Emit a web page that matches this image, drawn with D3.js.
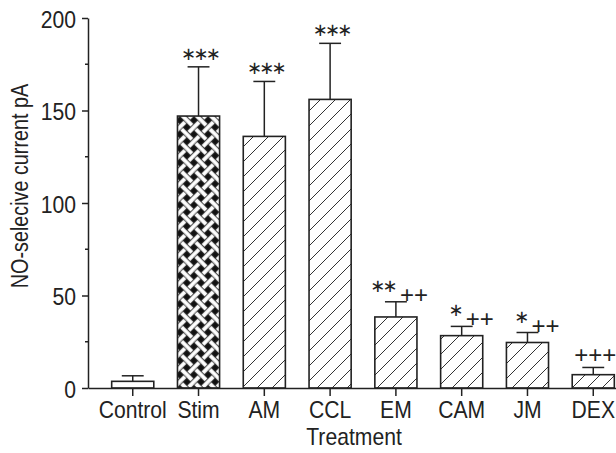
<!DOCTYPE html>
<html>
<head>
<meta charset="utf-8">
<script src="https://cdn.jsdelivr.net/npm/d3@7"></script>
<style>
  html, body { margin: 0; padding: 0; background: #fff; }
  #chart { width: 616px; height: 453px; }
  text { font-family: "Liberation Sans", Arial, sans-serif; fill: #222; }
</style>
</head>
<body>
<div id="chart"></div>
<script>
// NO-selective current per treatment, mean with upper error bar

const categories = ["Control", "Stim", "AM", "CCL", "EM", "CAM", "JM", "DEX"];
const means = [3.6, 147, 136, 156, 38.4, 28.3, 24.6, 7.2];
const errors = [3, 26.6, 29.7, 30.3, 8.2, 5, 5.4, 3.9];
const stars = ["", "***", "***", "***", "**", "*", "*", ""];
const pluses = ["", "", "", "", "++", "++", "++", "+++"];
const yTicks = [0, 50, 100, 150, 200];
const yMinorTicks = [25, 75, 125, 175];

const data = categories.map((c, i) => ({
    cat: c, mean: means[i], err: errors[i], star: stars[i], plus: pluses[i]
}));

const width = 616, height = 453;
const svg = d3.select("#chart").append("svg")
    .attr("width", width)
    .attr("height", height);

const axisColor = "#222";
const markColor = "#666";

// Patterns
const defs = svg.append("defs");

const hatch = defs.append("pattern")
    .attr("id", "hatch")
    .attr("patternUnits", "userSpaceOnUse")
    .attr("width", 15).attr("height", 15);
hatch.append("rect").attr("width", 15).attr("height", 15).attr("fill", "#fff");
hatch.append("path")
    .attr("d", "M0,15 L15,0 M-4,4 L4,-4 M11,19 L19,11")
    .attr("stroke", "#333")
    .attr("stroke-width", 1);

// basket weave, rotated 45deg
const s = 10, gap = 2.8;
const weave = defs.append("pattern")
    .attr("id", "weave")
    .attr("patternUnits", "userSpaceOnUse")
    .attr("width", 2 * s).attr("height", 2 * s)
    .attr("patternTransform", "translate(3,0) rotate(45)");
weave.append("rect").attr("width", 2 * s).attr("height", 2 * s).attr("fill", "#111");
const cells = [[0, 0, "h"], [1, 0, "v"], [0, 1, "v"], [1, 1, "h"]];
[-2 * s, 0, 2 * s].forEach(dx => {
    [-2 * s, 0, 2 * s].forEach(dy => {
        cells.forEach(([cx, cy, o]) => {
            const ox = cx * s + dx, oy = cy * s + dy;
            weave.append("rect")
                .attr("x", o === "h" ? ox - gap : ox + gap)
                .attr("y", o === "h" ? oy + gap : oy - gap)
                .attr("width", o === "h" ? s + 2 * gap : s - 2 * gap)
                .attr("height", o === "h" ? s - 2 * gap : s + 2 * gap)
                .attr("fill", "#fff")
                .attr("stroke", "#111")
                .attr("stroke-width", 0.6);
        });
    });
});

const fillFor = c => c === "Control" ? "#fff" : (c === "Stim" ? "url(#weave)" : "url(#hatch)");

// Scales
const x = d3.scaleBand()
    .domain(categories)
    .range([88, 638])
    .padding(0.36);

const y = d3.scaleLinear()
    .domain([0, 200])
    .range([388, 18]);

const bw = x.bandwidth();
const cx = d => x(d.cat) + bw / 2;

// Bars
svg.append("g")
    .selectAll("rect")
    .data(data)
    .join("rect")
    .attr("x", d => x(d.cat))
    .attr("y", d => y(d.mean))
    .attr("width", bw)
    .attr("height", d => y(0) - y(d.mean))
    .attr("fill", d => fillFor(d.cat))
    .attr("stroke", axisColor)
    .attr("stroke-width", 1.6);

// Error bars (upper only)
const eb = svg.append("g")
    .attr("stroke", axisColor)
    .attr("stroke-width", 1.5);
eb.selectAll("line.v")
    .data(data)
    .join("line")
    .attr("class", "v")
    .attr("x1", cx).attr("x2", cx)
    .attr("y1", d => y(d.mean))
    .attr("y2", d => y(d.mean + d.err));
eb.selectAll("line.cap")
    .data(data)
    .join("line")
    .attr("class", "cap")
    .attr("x1", d => cx(d) - bw * 0.26)
    .attr("x2", d => cx(d) + bw * 0.26)
    .attr("y1", d => y(d.mean + d.err))
    .attr("y2", d => y(d.mean + d.err));

// Axes
const xAxis = svg.append("g")
    .attr("transform", `translate(0,${y(0)})`)
    .call(d3.axisBottom(x).tickSizeInner(8).tickSizeOuter(0).tickPadding(6));

const yAxis = svg.append("g")
    .attr("transform", `translate(${x.range()[0]},0)`)
    .call(d3.axisLeft(y).tickValues(yTicks).tickSizeInner(6).tickSizeOuter(0).tickPadding(7));

yAxis.selectAll(".minor")
    .data(yMinorTicks)
    .join("line")
    .attr("class", "minor")
    .attr("x1", -3).attr("x2", 0)
    .attr("y1", d => y(d)).attr("y2", d => y(d))
    .attr("stroke", axisColor)
    .attr("stroke-width", 1.5);

[xAxis, yAxis].forEach(g => {
    g.selectAll("path, line").attr("stroke", axisColor).attr("stroke-width", 1.5);
    g.selectAll("text")
        .attr("fill", "#222")
        .style("font-family", "'Liberation Sans', Arial, sans-serif")
        .style("font-size", "23px");
});
// condensed look of the original lettering
xAxis.selectAll("text").attr("transform", "scale(0.92,1)");
yAxis.selectAll("text").attr("dy", "0.4em").attr("transform", "scale(0.92,1)");

// Axis titles
svg.append("text")
    .attr("transform", "translate(354,445) scale(0.92,1)")
    .attr("text-anchor", "middle")
    .style("font-size", "23px")
    .text("Treatment");

svg.append("text")
    .attr("transform", "translate(28,186) rotate(-90) scale(0.86,1)")
    .attr("text-anchor", "middle")
    .style("font-size", "23px")
    .text("NO-selecive current pA");

// Significance marks
const marks = svg.append("g");
data.filter(d => d.star).forEach(d => {
    const top = y(d.mean + d.err);
    marks.append("text")
        .attr("x", d.plus ? cx(d) - 1 : cx(d) + 1)
        .attr("y", (d.plus ? top - 13 : top - 10) + 3)
        .attr("text-anchor", d.plus ? "end" : "middle")
        .style("font-family", "'DejaVu Sans', sans-serif")
        .style("font-size", "18px")
        .style("letter-spacing", "-2.8px")
        .attr("fill", markColor)
        .text(d.star.replace(/\*/g, "\u2217"));
});
data.filter(d => d.plus).forEach(d => {
    const top = y(d.mean + d.err);
    marks.append("text")
        .attr("x", d.star ? cx(d) + 4 : cx(d) + 2)
        .attr("y", (d.star ? top - 7 : top - 12) + 8)
        .attr("text-anchor", d.star ? "start" : "middle")
        .style("font-size", "24px")
        .style("font-weight", "300")
        .attr("fill", markColor)
        .text(d.plus);
});
</script>
</body>
</html>
